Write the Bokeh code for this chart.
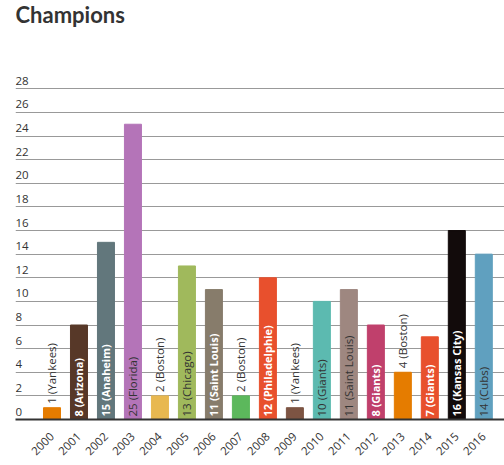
import math
from bokeh.plotting import figure
from bokeh.models import ColumnDataSource, Range1d, FixedTicker, Grid, Label
from bokeh.core.properties import value
from bokeh.embed import file_html
from bokeh.resources import INLINE

# ---- data ----
years = [2000, 2001, 2002, 2003, 2004, 2005, 2006, 2007, 2008,
         2009, 2010, 2011, 2012, 2013, 2014, 2015, 2016]
values = [1, 8, 15, 25, 2, 13, 11, 2, 12, 1, 10, 11, 8, 4, 7, 16, 14]
teams = ["Yankees", "Arizona", "Anaheim", "Florida", "Boston", "Chicago",
         "Saint Louis", "Boston", "Philadelphie", "Yankees", "Giants",
         "Saint Louis", "Giants", "Boston", "Giants", "Kansas City", "Cubs"]
bar_colors = ["#e57c00", "#573828", "#62777c", "#b474b8", "#e8b850", "#a0b95c",
              "#877c6b", "#5cb85c", "#e8502d", "#7d5443", "#5cbab0", "#9e8780",
              "#c0406c", "#e57c00", "#e8502d", "#120b0b", "#60a0bf"]
y_ticks = [0, 2, 4, 6, 8, 10, 12, 14, 16, 18, 20, 22, 24, 26, 28]
title_text = "Champions"

FONT = "Open Sans"
DARK = "#333333"
PX_PER_UNIT = 11.81
TOP = 2  # page px above the frame

p = figure(frame_width=489, frame_height=419 - TOP,
           min_border_top=TOP, min_border_left=15, min_border_right=0,
           min_border_bottom=0,
           x_range=Range1d(1998.648, 2016.767),
           y_range=Range1d(0, 28 + (88.3 - TOP) / PX_PER_UNIT),
           y_axis_location=None,
           output_backend="svg", toolbar_location=None,
           background_fill_color="white", border_fill_color="white")
p.outline_line_color = None
p.title.visible = False
# hide the default grids (the y one would follow a hidden default ticker)
for r in list(p.center):
    if isinstance(r, Grid):
        r.visible = False

# y grid
p.add_layout(Grid(dimension=1, ticker=FixedTicker(ticks=y_ticks),
                  bounds=(0, 28),
                  grid_line_color="#999999", grid_line_width=1))

# bars
src = ColumnDataSource(dict(x=years, top=values, color=bar_colors))
p.vbar(x="x", top="top", bottom=0, width=0.63, color="color", source=src)

# x axis
xa = p.xaxis[0]
xa.ticker = FixedTicker(ticks=years)
xa.major_label_orientation = math.pi / 4
xa.axis_line_color = DARK
xa.axis_line_width = 2
xa.major_tick_line_color = None
xa.minor_tick_line_color = None
xa.major_label_standoff = 9
xa.major_label_text_font = FONT
xa.major_label_text_font_size = "11.5px"
xa.major_label_text_color = DARK

# y tick labels sitting above their grid lines
for t in y_ticks:
    p.add_layout(Label(x=0, x_units="screen", y=t, y_units="data", y_offset=8,
                       text=str(t), text_font=FONT, text_font_size="11.5px",
                       text_color=DARK, text_baseline="middle",
                       text_align="left"))

# data labels
def lum(c):
    r, g, b = int(c[1:3], 16), int(c[3:5], 16), int(c[5:7], 16)
    return 0.299 * r + 0.587 * g + 0.114 * b

inside_w = dict(x=[], y=[], t=[])
inside_d = dict(x=[], y=[], t=[])
above = dict(x=[], y=[], t=[])
for yr, v, tm, c in zip(years, values, teams, bar_colors):
    txt = f"{v} ({tm})"
    if v >= 5:
        d = inside_w if lum(c) < 128 else inside_d
        d["x"].append(yr); d["y"].append(0); d["t"].append(txt)
    else:
        above["x"].append(yr); above["y"].append(v); above["t"].append(txt)

p.text(x="x", y="y", text="t", source=ColumnDataSource(inside_w),
       angle=math.pi / 2, text_align="left", text_baseline="middle",
       y_offset=-3, text_color="white", text_font=value(FONT),
       text_font_size="11px", text_font_style="bold")
p.text(x="x", y="y", text="t", source=ColumnDataSource(inside_d),
       angle=math.pi / 2, text_align="left", text_baseline="middle",
       y_offset=-3, text_color=DARK, text_font=value(FONT),
       text_font_size="11.5px")
p.text(x="x", y="y", text="t", source=ColumnDataSource(above),
       angle=math.pi / 2, text_align="left", text_baseline="middle",
       y_offset=-4, text_color=DARK, text_font=value(FONT),
       text_font_size="11.5px")

# title
p.add_layout(Label(x=0, x_units="screen", y=28 + (88.3 - 13.5) / PX_PER_UNIT,
                   y_units="data",
                   text=title_text, text_font="Lato",
                   text_font_size="22px", text_font_style="bold",
                   text_color="#333333", text_baseline="middle",
                   text_align="left"))

open("out.html", "w").write(file_html(p, INLINE))
